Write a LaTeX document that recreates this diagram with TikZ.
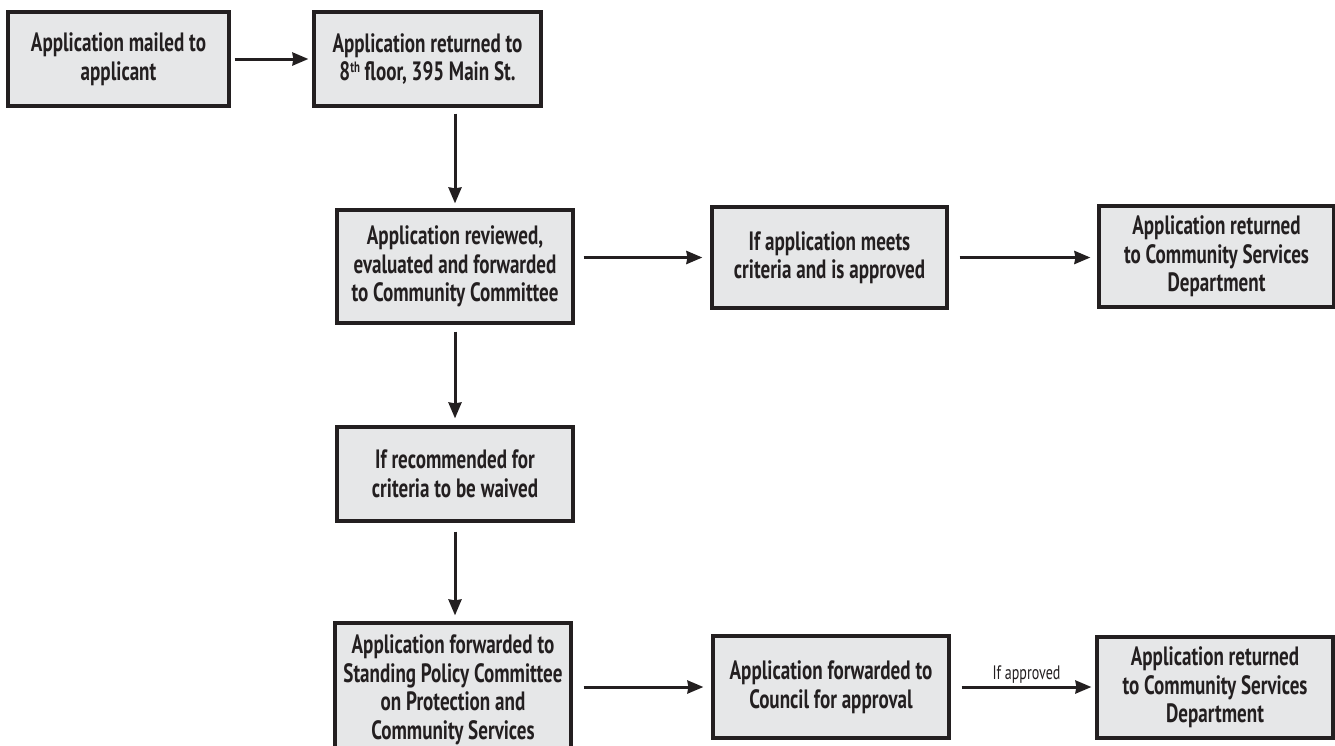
\documentclass[tikz,border=0pt]{standalone}
\usepackage{fontspec}
\setmainfont{PT Sans}[FakeStretch=0.72]
\usetikzlibrary{arrows.meta}
\definecolor{boxfill}{HTML}{E6E7E8}
\definecolor{ink}{HTML}{231F20}
\newcommand{\supth}{\raisebox{0.32em}{\fontsize{15}{15}\selectfont th}}
\begin{document}
\begin{tikzpicture}[x=1pt,y=-1pt,
  box/.style={draw=ink,line width=3.2pt,fill=boxfill,inner sep=0pt,align=center,
    font=\bfseries\fontsize{26.5}{28.5}\selectfont,text=ink},
  arr/.style={draw=ink,line width=3pt,-{Stealth[length=16pt,width=13pt,inset=1pt]}},
  lbl/.style={font=\fontsize{19.5}{21}\selectfont,text=ink,inner sep=2pt}]
\useasboundingbox (0,0) rectangle (1335,745);
\fill[white] (0,0) rectangle (1335,745);
\node[box,minimum width=221pt,minimum height=94pt] (b1) at (118.5,59) {Application mailed to\\applicant};
\node[box,minimum width=227pt,minimum height=94pt] (b2) at (427.5,59) {Application returned to\\8\supth{} floor, 395 Main St.};
\node[box,minimum width=236pt,minimum height=113pt] (b3) at (455,266.5) {Application reviewed,\\evaluated and forwarded\\to Community Committee};
\node[box,minimum width=235pt,minimum height=101pt] (b4) at (829.5,257.5) {If application meets\\criteria and is approved};
\node[box,minimum width=235pt,minimum height=101pt] (b5) at (1216.5,256.5) {Application returned\\to Community Services\\Department};
\node[box,minimum width=236pt,minimum height=94pt] (b6) at (455,474) {If recommended for\\criteria to be waived};
\node[box,minimum width=236pt,minimum height=134pt] (b7) at (453,690) {Application forwarded to\\Standing Policy Committee\\on Protection and\\Community Services};
\node[box,minimum width=236pt,minimum height=102pt] (b8) at (831,687) {Application forwarded to\\Council for approval};
\node[box,minimum width=236pt,minimum height=101pt] (b9) at (1215,687.5) {Application returned\\to Community Services\\Department};
\draw[arr] ([xshift=4pt]b1.east) -- ([xshift=-4pt]b2.west);
\draw[arr] ([yshift=-6pt]b2.south -| b6.north) -- ([yshift=5pt]b3.north -| b6.north);
\draw[arr] ([xshift=9pt]b3.east |- b4.west) -- ([xshift=-8pt]b4.west);
\draw[arr] ([xshift=11pt]b4.east) -- ([xshift=-7pt]b5.west |- b4.east);
\draw[arr] ([yshift=-7pt]b3.south -| b6.north) -- ([yshift=7pt]b6.north);
\draw[arr] ([yshift=-9pt]b6.south) -- ([yshift=6pt]b7.north -| b6.north);
\draw[arr] ([xshift=11pt]b7.east |- b8.west) -- ([xshift=-8pt]b8.west);
\draw[arr] ([xshift=11pt]b8.east) -- node[lbl,above] {If approved} ([xshift=-4pt]b9.west |- b8.east);
\end{tikzpicture}
\end{document}
